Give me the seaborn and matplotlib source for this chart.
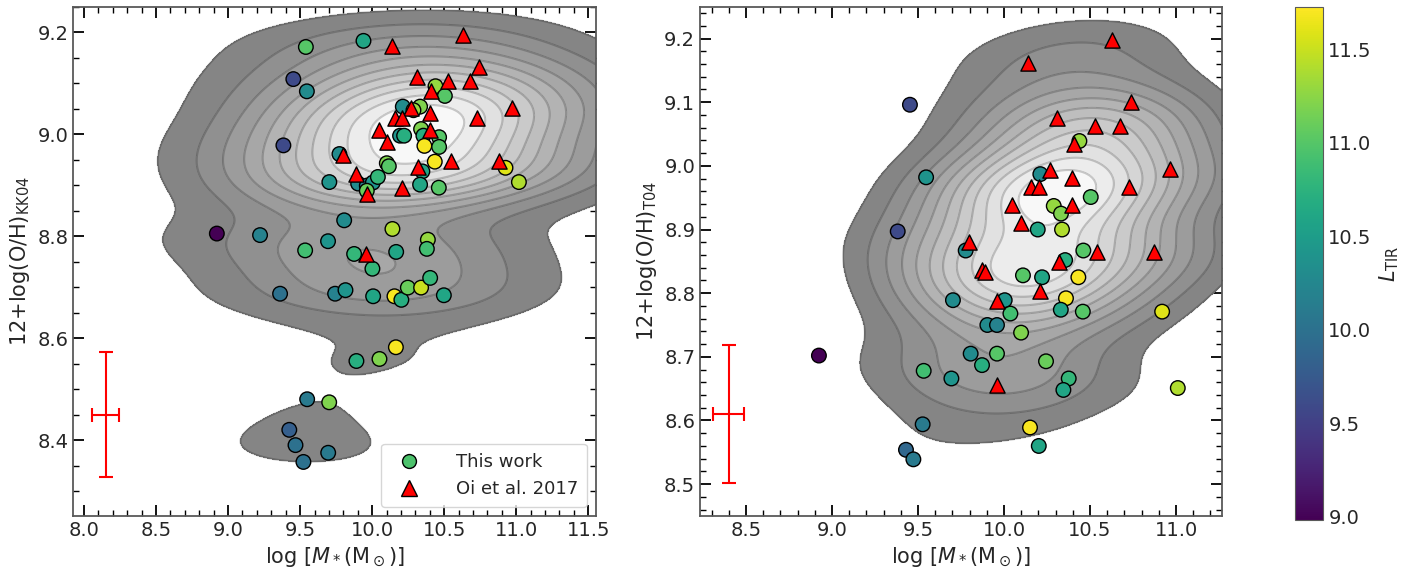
import numpy as np
import pandas as pd
import matplotlib
matplotlib.use("Agg")
import matplotlib.pyplot as plt
import seaborn as sns
from matplotlib.colors import LinearSegmentedColormap, Normalize
from matplotlib.lines import Line2D
from matplotlib.ticker import MultipleLocator

# ---- data ----
# left panel: This work (KK04)
kk_mass = [9.540, 9.940, 9.453, 9.547, 9.384, 10.440, 10.505, 10.213, 10.333, 10.287,
           10.194, 10.222, 10.340, 10.356, 10.465, 10.363, 10.465, 9.773, 10.102, 10.116,
           10.435, 10.349, 10.926, 11.019, 9.703, 9.903, 9.963, 10.005, 10.040, 9.963,
           10.333, 10.463, 9.806, 8.922, 9.222, 10.141, 9.535, 9.694, 9.875, 10.167,
           10.387, 10.380, 10.002, 9.361, 9.743, 9.815, 10.007, 10.155, 10.203, 10.248,
           10.340, 10.403, 10.498, 10.165, 9.891, 10.051, 9.549, 9.702, 9.425, 9.468,
           9.523, 9.695]
kk_oh = [9.171, 9.183, 9.108, 9.084, 8.978, 9.094, 9.075, 9.054, 9.054, 9.047,
         8.997, 8.997, 9.010, 8.997, 8.994, 8.977, 8.975, 8.961, 8.943, 8.937,
         8.946, 8.927, 8.934, 8.906, 8.906, 8.903, 8.899, 8.905, 8.916, 8.889,
         8.901, 8.895, 8.831, 8.805, 8.802, 8.814, 8.772, 8.790, 8.765, 8.769,
         8.793, 8.775, 8.736, 8.687, 8.687, 8.694, 8.682, 8.682, 8.675, 8.699,
         8.699, 8.718, 8.684, 8.582, 8.555, 8.559, 8.480, 8.474, 8.420, 8.390,
         8.357, 8.375]
kk_ltir = [11.0, 10.6, 9.6, 10.3, 9.6, 11.3, 11.0, 10.3, 11.2, 11.3,
           10.4, 10.7, 11.2, 10.7, 11.0, 11.7, 11.0, 10.3, 11.2, 11.0,
           11.7, 10.6, 11.6, 11.4, 10.4, 10.3, 10.2, 10.4, 10.8, 11.1,
           10.6, 11.0, 10.3, 8.98, 10.2, 11.4, 10.9, 10.4, 10.8, 10.6,
           11.3, 10.9, 10.8, 10.0, 10.2, 10.4, 10.6, 11.7, 10.7, 11.1,
           11.5, 10.8, 10.6, 11.7, 10.7, 11.2, 10.1, 11.2, 9.8, 10.0,
           10.0, 10.1]

# left panel: Oi et al. 2017
oi_kk_mass = [10.630, 10.139, 10.310, 10.530, 10.681, 10.741, 10.410, 10.271, 10.405, 10.160,
              10.208, 10.972, 10.731, 10.049, 10.401, 10.102, 9.797, 10.319, 10.551, 10.880,
              9.889, 10.210, 9.963, 9.958]
oi_kk_oh = [9.195, 9.173, 9.112, 9.104, 9.104, 9.131, 9.084, 9.052, 9.042, 9.031,
            9.031, 9.052, 9.031, 9.008, 9.008, 8.984, 8.959, 8.936, 8.948, 8.948,
            8.922, 8.895, 8.882, 8.764]

# right panel: This work (T04)
t04_mass = [9.453, 9.547, 9.382, 10.438, 10.211, 10.504, 10.289, 10.331, 10.337, 10.196,
            9.777, 10.461, 10.355, 10.110, 10.221, 10.432, 10.360, 10.330, 10.458, 9.703,
            10.004, 10.037, 9.903, 9.959, 10.099, 8.924, 9.806, 9.959, 9.533, 9.872,
            9.694, 10.244, 10.376, 10.345, 9.527, 10.151, 10.919, 11.010, 10.202, 9.430,
            9.473]
t04_oh = [9.096, 8.982, 8.897, 9.039, 8.987, 8.951, 8.937, 8.925, 8.900, 8.900,
          8.867, 8.867, 8.852, 8.828, 8.825, 8.825, 8.792, 8.774, 8.771, 8.789,
          8.789, 8.768, 8.750, 8.750, 8.738, 8.702, 8.705, 8.705, 8.678, 8.687,
          8.666, 8.693, 8.666, 8.648, 8.594, 8.589, 8.771, 8.651, 8.560, 8.554,
          8.539]
t04_ltir = [9.6, 10.4, 9.6, 11.3, 10.3, 11.0, 11.3, 11.2, 11.4, 10.6,
            10.3, 11.0, 10.7, 11.0, 10.6, 11.7, 11.7, 10.6, 11.0, 10.3,
            10.4, 10.9, 10.3, 10.2, 11.2, 8.98, 10.3, 11.0, 10.9, 10.7,
            10.4, 11.1, 10.8, 10.6, 10.1, 11.7, 11.6, 11.4, 10.6, 9.9,
            10.1]

# right panel: Oi et al. 2017
oi_t04_mass = [10.628, 10.140, 10.737, 10.308, 10.527, 10.676, 10.409, 10.267, 10.397, 10.159,
               10.202, 10.727, 10.967, 10.048, 10.397, 10.099, 9.797, 10.318, 10.542, 9.874,
               9.890, 10.208, 9.959, 9.959, 10.874]
oi_t04_oh = [9.197, 9.162, 9.101, 9.075, 9.062, 9.062, 9.035, 8.994, 8.981, 8.967,
             8.967, 8.967, 8.995, 8.938, 8.938, 8.910, 8.880, 8.849, 8.865, 8.836,
             8.834, 8.803, 8.788, 8.656, 8.865]

# typical error bars
kk_err = dict(x=8.15, y=8.45, xerr=0.095, yerr=0.123)
t04_err = dict(x=8.40, y=8.61, xerr=0.09, yerr=0.108)

ltir_min, ltir_max = 8.98, 11.73

sns.set_style("ticks")
plt.rcParams['font.family'] = ['DejaVu Sans']
plt.rcParams['mathtext.fontset'] = 'dejavusans'
plt.rcParams['xtick.direction'] = 'in'
plt.rcParams['ytick.direction'] = 'in'

grey_cmap = LinearSegmentedColormap.from_list("grey_white", ["#7f7f7f", "#ffffff"])
norm = Normalize(ltir_min, ltir_max)

fig = plt.figure(figsize=(14.22, 5.73), dpi=100)
ax1 = fig.add_axes([0.0516, 0.0995, 0.3674, 0.8888])
ax2 = fig.add_axes([0.4923, 0.0995, 0.3673, 0.8888])
cax = fig.add_axes([0.9105, 0.0921, 0.0202, 0.8963])


def density(ax, xs, ys, ws, bx, by, thresh, nlev=12):
    # weighted gaussian kernel density with separate x / y bandwidths
    gx = np.linspace(7.5, 12.0, 400)
    gy = np.linspace(8.0, 9.5, 400)
    X, Y = np.meshgrid(gx, gy)
    Z = np.zeros_like(X)
    for xi, yi, wi in zip(xs, ys, ws):
        Z += wi * np.exp(-0.5 * ((X - xi) / bx) ** 2 - 0.5 * ((Y - yi) / by) ** 2)
    Z /= Z.max()
    levels = np.linspace(thresh, 1.0, nlev)
    ax.contourf(X, Y, Z, levels=list(levels) + [1.01], cmap=grey_cmap, zorder=1)
    ax.contour(X, Y, Z, levels=levels, colors="k", alpha=0.2, linewidths=1.5, zorder=2)


def panel(ax, mass, oh, ltir, oi_mass, oi_oh, err, bx, by, thresh, w_oi):
    xs = np.concatenate([mass, oi_mass])
    ys = np.concatenate([oh, oi_oh])
    ws = np.concatenate([np.ones(len(mass)), np.full(len(oi_mass), w_oi)])
    density(ax, xs, ys, ws, bx, by, thresh)
    df = pd.DataFrame({"mass": mass, "oh": oh, "ltir": ltir})
    sns.scatterplot(data=df, x="mass", y="oh", hue="ltir", palette="viridis", hue_norm=norm,
                    s=110, edgecolor="k", linewidth=1.0, legend=False, ax=ax, zorder=3)
    sns.scatterplot(x=oi_mass, y=oi_oh, marker="^", color="red", s=120, edgecolor="k",
                    linewidth=1.0, legend=False, ax=ax, zorder=4)
    ax.errorbar(err["x"], err["y"], xerr=err["xerr"], yerr=err["yerr"], color="red",
                capsize=5, elinewidth=1.5, capthick=1.5, zorder=5)
    ax.tick_params(which="both", top=True, right=True, labelsize=14, color="k")
    ax.tick_params(which="major", length=8, width=1.3)
    ax.tick_params(which="minor", length=4, width=1.0)
    for s in ax.spines.values():
        s.set_color("0.35")
        s.set_linewidth(1.3)
    ax.set_xlabel(r"$\log\,[M_*(\mathrm{M}_\odot)]$", fontsize=15)


panel(ax1, kk_mass, kk_oh, kk_ltir, oi_kk_mass, oi_kk_oh, kk_err, 0.7, 0.045, 0.08, 3.0)
ax1.set_xlim(7.926, 11.553)
ax1.set_ylim(8.251, 9.25)
ax1.xaxis.set_major_locator(MultipleLocator(0.5))
ax1.xaxis.set_minor_locator(MultipleLocator(0.1))
ax1.yaxis.set_major_locator(MultipleLocator(0.2))
ax1.yaxis.set_minor_locator(MultipleLocator(0.05))
ax1.set_ylabel(r"12+log(O/H)$_{\rm KK04}$", fontsize=15)

panel(ax2, t04_mass, t04_oh, t04_ltir, oi_t04_mass, oi_t04_oh, t04_err, 0.45, 0.045, 0.12, 4.0)
ax2.set_xlim(8.233, 11.269)
ax2.set_ylim(8.45, 9.25)
ax2.xaxis.set_major_locator(MultipleLocator(0.5))
ax2.xaxis.set_minor_locator(MultipleLocator(0.1))
ax2.yaxis.set_major_locator(MultipleLocator(0.1))
ax2.yaxis.set_minor_locator(MultipleLocator(0.02))
ax2.set_ylabel(r"12+log(O/H)$_{\rm T04}$", fontsize=15)

# legend on the left panel
handles = [
    Line2D([], [], marker="o", linestyle="none", markersize=10, markerfacecolor=plt.cm.viridis(norm(10.95)),
           markeredgecolor="k", label="This work"),
    Line2D([], [], marker="^", linestyle="none", markersize=11, markerfacecolor="red",
           markeredgecolor="k", label="Oi et al. 2017"),
]
ax1.legend(handles=handles, loc="lower right", fontsize=13, handletextpad=1.6, borderpad=0.5)

# colour bar
sm = plt.cm.ScalarMappable(norm=norm, cmap="viridis")
cb = fig.colorbar(sm, cax=cax)
cb.set_label(r"$L_{\rm TIR}$", fontsize=15)
cb.ax.yaxis.set_major_locator(MultipleLocator(0.5))
cb.ax.yaxis.set_minor_locator(MultipleLocator(0.1))
cb.ax.tick_params(which="both", direction="in", labelsize=14)
cb.ax.tick_params(which="major", length=8, width=1.3)
cb.ax.tick_params(which="minor", length=4, width=1.0)
cb.outline.set_edgecolor("0.35")

fig.savefig("out.png", dpi=100)
